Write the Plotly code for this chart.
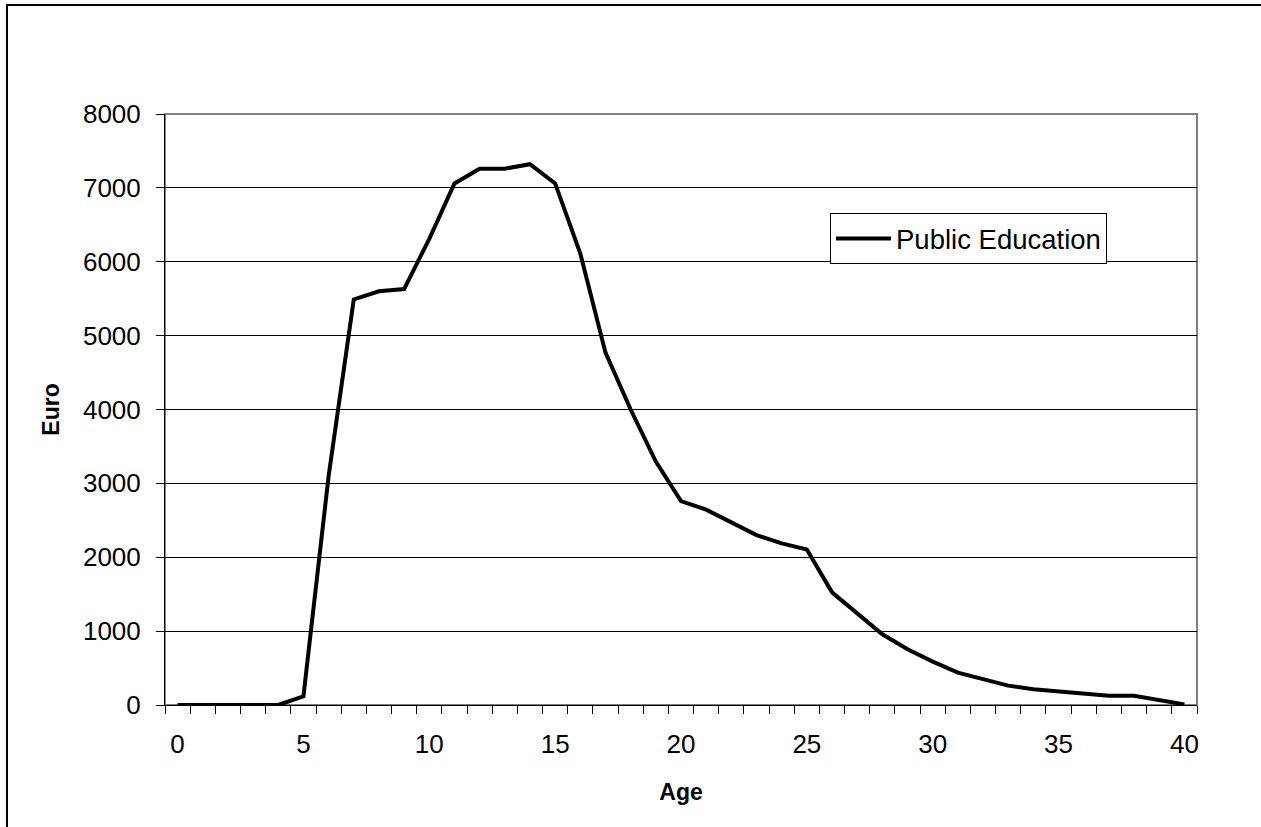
import plotly.graph_objects as go

ages = list(range(0, 41))
public_education = [0, 0, 0, 0, 0, 118, 3100, 5490, 5600, 5630, 6310, 7060, 7260, 7260, 7320,
                    7060, 6110, 4770, 4000, 3295, 2760, 2645, 2468, 2300, 2188, 2105, 1525,
                    1240, 957, 754, 587, 438, 352, 262, 212, 185, 158, 126, 126, 68, 8]
x_tick_vals = [0, 5, 10, 15, 20, 25, 30, 35, 40]
y_tick_vals = [0, 1000, 2000, 3000, 4000, 5000, 6000, 7000, 8000]

FONT = "Liberation Sans, Arial, Helvetica, sans-serif"
W, H = 1261, 827
L, R, T, B = 165, 1197, 114, 705
pw, ph = R - L, B - T

def px_x(p):
    return (p - L) / pw

def px_y(p):
    return (B - p) / ph

fig = go.Figure()
fig.add_trace(go.Scatter(
    x=ages, y=public_education, mode="lines", name="Public Education",
    line=dict(color="black", width=4), showlegend=True,
))

fig.update_layout(
    width=W, height=H,
    margin=dict(l=L, r=W - R, t=T, b=H - B, autoexpand=False),
    paper_bgcolor="white", plot_bgcolor="white",
    font=dict(family=FONT, size=26, color="black"),
    showlegend=True,
    legend=dict(
        x=px_x(830), y=px_y(213), xanchor="left", yanchor="top",
        bordercolor="black", borderwidth=1, bgcolor="white",
        font=dict(family=FONT, size=27.5, color="black"),
        itemwidth=55,
    ),
    shapes=[
        dict(type="rect", xref="paper", yref="paper", x0=0, x1=1, y0=0, y1=1,
             line=dict(color="#808080", width=2), layer="below"),
        dict(type="rect", xref="paper", yref="paper",
             x0=px_x(7), x1=px_x(1300), y0=px_y(860), y1=px_y(5),
             line=dict(color="black", width=2), layer="below"),
    ],
)

fig.update_xaxes(
    range=[-0.5, 40.5], tickmode="array", tickvals=x_tick_vals,
    ticktext=[str(v) for v in x_tick_vals],
    ticks="", showgrid=False, zeroline=False,
    showline=True, linecolor="black", linewidth=1,
    minor=dict(tick0=-0.5, dtick=1, ticks="outside", ticklen=8,
               tickcolor="black", tickwidth=1, showgrid=False),
    tickfont=dict(family=FONT, size=26, color="black"),
    ticklabelstandoff=16,
    title=dict(text="<b>Age</b>", font=dict(family=FONT, size=23, color="black"), standoff=25),
)
fig.update_yaxes(
    range=[0, 8000], tickmode="array", tickvals=y_tick_vals,
    ticks="outside", ticklen=8, tickcolor="black", tickwidth=1,
    showgrid=True, gridcolor="black", gridwidth=1, zeroline=False,
    showline=True, linecolor="black", linewidth=1,
    tickfont=dict(family=FONT, size=26, color="black"),
    ticklabelstandoff=10,
    title=dict(text="<b>Euro</b>", font=dict(family=FONT, size=23, color="black"), standoff=16),
)

fig.write_html("out.html")
